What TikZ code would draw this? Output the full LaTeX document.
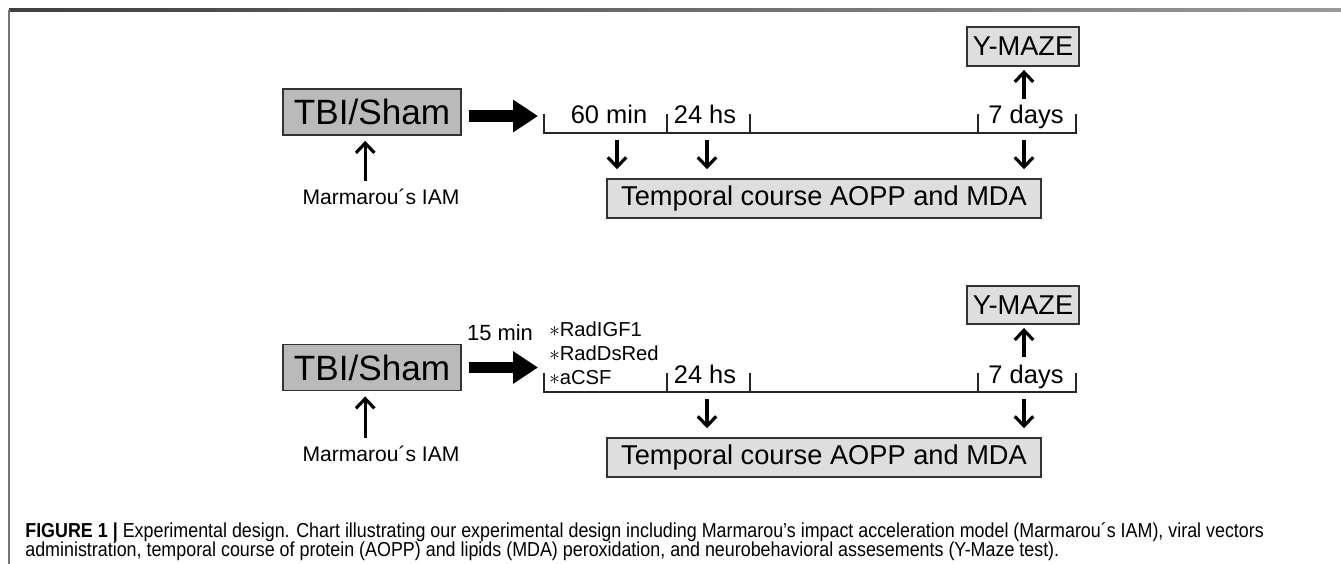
\documentclass[tikz,border=0pt]{standalone}
\usepackage{fontspec}
\setmainfont{Liberation Sans}
\newfontfamily\capfont[FakeStretch=0.885]{Liberation Sans}
\usetikzlibrary{arrows.meta}
\tikzset{
  tbibox/.style={draw=black!80, line width=1.1pt, fill=black!27, inner sep=0pt,
    minimum width=3.56cm, minimum height=0.92cm, font=\fontsize{20}{24}\selectfont},
  labbox/.style={draw=black!80, line width=1.1pt, fill=black!13, inner sep=0pt,
    minimum height=0.78cm, font=\fontsize{15.5}{18}\selectfont},
  tlabel/.style={inner sep=0pt, anchor=base, font=\fontsize{14.5}{17}\selectfont},
  vlabel/.style={inner sep=0pt, anchor=base west, font=\fontsize{11.5}{13}\selectfont},
  caption/.style={anchor=base west, inner sep=0pt, font=\capfont\fontsize{11.5}{13}\selectfont},
  timeline/.style={draw=black!85, line width=1.1pt},
  thinarrow/.style={line width=1.8pt, -{Straight Barb[length=5.5pt,width=10.5pt]}},
  bigarrow/.style={line width=6.8pt, -{Triangle[length=14.2pt,width=17.6pt]}}
}
\begin{document}
\begin{tikzpicture}[x=0.02cm, y=-0.02cm]
  \useasboundingbox (0,0) rectangle (1341,564);
  \fill[left color=black!75, right color=black!40] (9,9) rectangle (1341,11.5);
  \draw[black!55, line width=0.6pt] (9,10) -- (9,564);

  \node[tbibox] (tbiA) at (372,112) {TBI/Sham};
  \node[inner sep=0pt, font=\fontsize{12}{14}\selectfont] (iamA) at (381,197) {Marmarou´s IAM};
  \draw[thinarrow] ([xshift=-9pt]iamA.north) ++(0,-8) -- ([xshift=-9pt,yshift=-2.8pt]tbiA.south -| iamA.north);
  \coordinate (a0) at (544,133);
  \draw[bigarrow] ([yshift=-2.3pt,xshift=4pt]tbiA.east) -- ([yshift=-2.3pt,xshift=-3.4pt]tbiA.east -| a0);
  \draw[timeline] (544,114) -- (a0) -- (1076,133) -- (1076,114);
  \foreach \x in {667,750,978} \draw[timeline] (\x,133) -- (\x,114);
  \node[tlabel] (minA) at (609,124) {60 min};
  \node[tlabel] (hsA) at (705,124) {24 hs};
  \node[tlabel] (daysA) at (1026,124) {7 days};
  \node[labbox, minimum width=2.24cm] (mazeA) at (1023,46.5) {Y-MAZE};
  \node[labbox, minimum width=8.68cm] (aoppA) at (824,198.5) {Temporal course AOPP and MDA};
  \coordinate (upA) at (1024,99);
  \draw[thinarrow] (upA) -- ([yshift=-1.7pt]upA |- mazeA.south);
  \foreach \x in {617,707,1024} {
    \coordinate (dn) at (\x,140);
    \draw[thinarrow] (dn) -- ([yshift=5pt]dn |- aoppA.north);
  }

  \node[tbibox] (tbiB) at (372,367.5) {TBI/Sham};
  \node[inner sep=0pt, font=\fontsize{12}{14}\selectfont] (iamB) at (381,454) {Marmarou´s IAM};
  \draw[thinarrow] ([xshift=-9pt]iamB.north) ++(0,-8) -- ([xshift=-9pt,yshift=-2.8pt]tbiB.south -| iamB.north);
  \coordinate (b0) at (544,392);
  \draw[bigarrow] ([xshift=4pt]tbiB.east) -- ([xshift=-3.4pt]tbiB.east -| b0);
  \node[inner sep=0pt, font=\fontsize{12.5}{15}\selectfont] (minB) at (500,333) {15 min};
  \draw[timeline] (544,373) -- (b0) -- (1076,392) -- (1076,373);
  \foreach \x in {667,750,978} \draw[timeline] (\x,392) -- (\x,373);
  \node[vlabel] (igf) at (549,336) {$\ast$RadIGF1};
  \node[vlabel] (dsred) at (549,360) {$\ast$RadDsRed};
  \node[vlabel] (acsf) at (549,384) {$\ast$aCSF};
  \node[tlabel] (hsB) at (705,383) {24 hs};
  \node[tlabel] (daysB) at (1026,383) {7 days};
  \node[labbox, minimum width=2.24cm, minimum height=0.76cm] (mazeB) at (1023,305) {Y-MAZE};
  \node[labbox, minimum width=8.68cm] (aoppB) at (824,457.5) {Temporal course AOPP and MDA};
  \coordinate (upB) at (1024,357);
  \draw[thinarrow] (upB) -- ([yshift=-1.7pt]upB |- mazeB.south);
  \foreach \x in {707,1024} {
    \coordinate (dn) at (\x,399);
    \draw[thinarrow] (dn) -- ([yshift=5pt]dn |- aoppB.north);
  }

  \node[caption] (capA) at (25,537)
    {\textbf{FIGURE 1 |} Experimental design. Chart illustrating our experimental design including Marmarou’s impact acceleration model (Marmarou´s IAM), viral vectors};
  \node[caption] (capB) at (25,556)
    {administration, temporal course of protein (AOPP) and lipids (MDA) peroxidation, and neurobehavioral assesements (Y-Maze test).};
\end{tikzpicture}
\end{document}
